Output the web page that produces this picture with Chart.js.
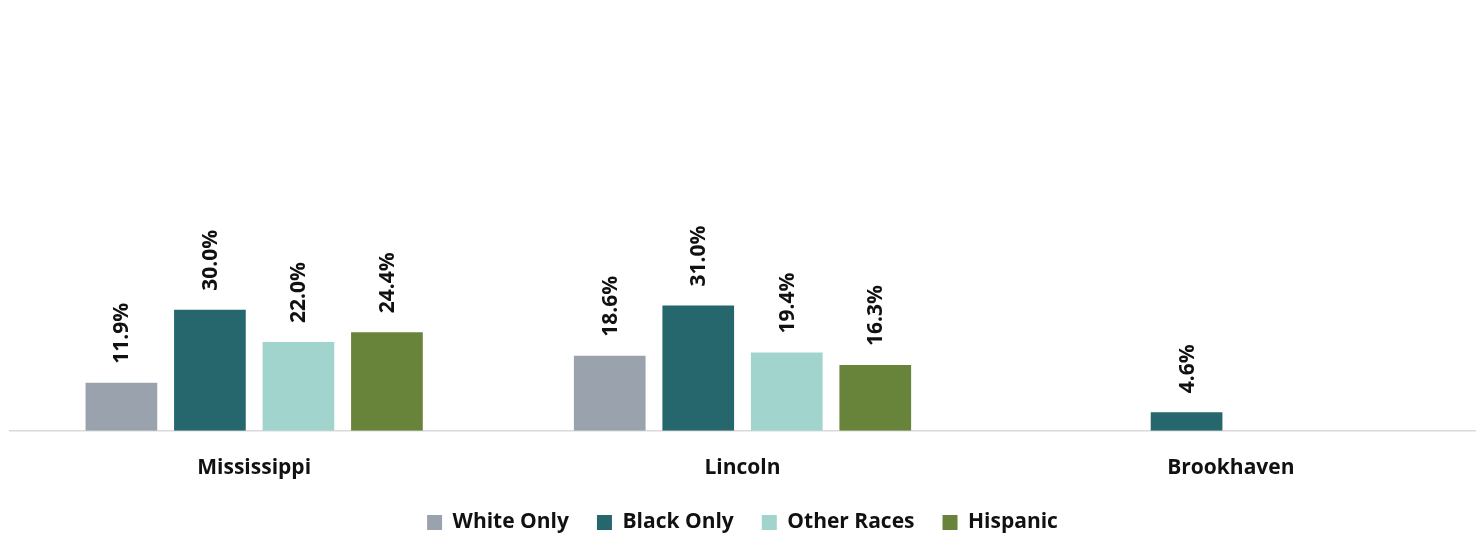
<!DOCTYPE html>
<html>
<head>
<meta charset="utf-8">
<script src="https://cdn.jsdelivr.net/npm/chart.js@4"></script>
<style>
  html, body { margin: 0; padding: 0; background: #fff; }
  #wrap { width: 1482px; height: 533px; }
</style>
</head>
<body>
<div id="wrap"><canvas id="chart"></canvas></div>
<script>
// Chart data
const categories = ['Mississippi', 'Lincoln', 'Brookhaven'];
const whiteOnly = [11.9, 18.6, null];
const blackOnly = [30.0, 31.0, 4.6];
const otherRaces = [22.0, 19.4, null];
const hispanic = [24.4, 16.3, null];

const FONT = "'Open Sans', 'Liberation Sans', sans-serif";
const LEGEND_PAD = 28;

// Rotated value labels above each bar
const barLabels = {
    id: 'barLabels',
    afterDatasetsDraw(chart) {
        const ctx = chart.ctx;
        ctx.save();
        ctx.font = "bold 21px " + FONT;
        ctx.fillStyle = '#111';
        ctx.textAlign = 'left';
        ctx.textBaseline = 'middle';
        chart.data.datasets.forEach((ds, i) => {
            const meta = chart.getDatasetMeta(i);
            meta.data.forEach((bar, j) => {
                const v = ds.data[j];
                if (v == null) return;
                ctx.save();
                ctx.translate(bar.x + 1, bar.y - 19);
                ctx.rotate(-Math.PI / 2);
                ctx.fillText(v.toFixed(1) + '%', 0, 0);
                ctx.restore();
            });
        });
        ctx.restore();
    }
};

new Chart(document.getElementById('chart'), {
    type: 'bar',
    data: {
        labels: categories,
        datasets: [
            { label: 'White Only', data: whiteOnly, backgroundColor: '#9AA3AD' },
            { label: 'Black Only', data: blackOnly, backgroundColor: '#26676D' },
            { label: 'Other Races', data: otherRaces, backgroundColor: '#A1D4CC' },
            { label: 'Hispanic', data: hispanic, backgroundColor: '#68843A' }
        ]
    },
    options: {
        responsive: true,
        maintainAspectRatio: false,
        animation: false,
        layout: { padding: { left: 10, right: 7, top: 27, bottom: 0 } },
        datasets: {
            bar: { barPercentage: 0.81, categoryPercentage: 0.725 }
        },
        plugins: {
            legend: {
                position: 'bottom',
                // cut the bottom padding so the row sits near the canvas edge
                maxHeight: LEGEND_PAD + 21,
                labels: {
                    boxWidth: 15,
                    boxHeight: 15,
                    padding: LEGEND_PAD,
                    color: '#111',
                    font: { family: FONT, size: 21, weight: 'bold' }
                }
            },
            tooltip: { enabled: false }
        },
        scales: {
            x: {
                grid: { display: false },
                border: { display: true, color: '#D9D9D9', width: 1.5 },
                ticks: {
                    color: '#111',
                    padding: 17,
                    font: { family: FONT, size: 21, weight: 'bold' }
                },
                afterFit(scale) { scale.height -= 14; }
            },
            y: {
                display: false,
                min: 0,
                max: 100
            }
        }
    },
    plugins: [barLabels]
});
</script>
</body>
</html>
